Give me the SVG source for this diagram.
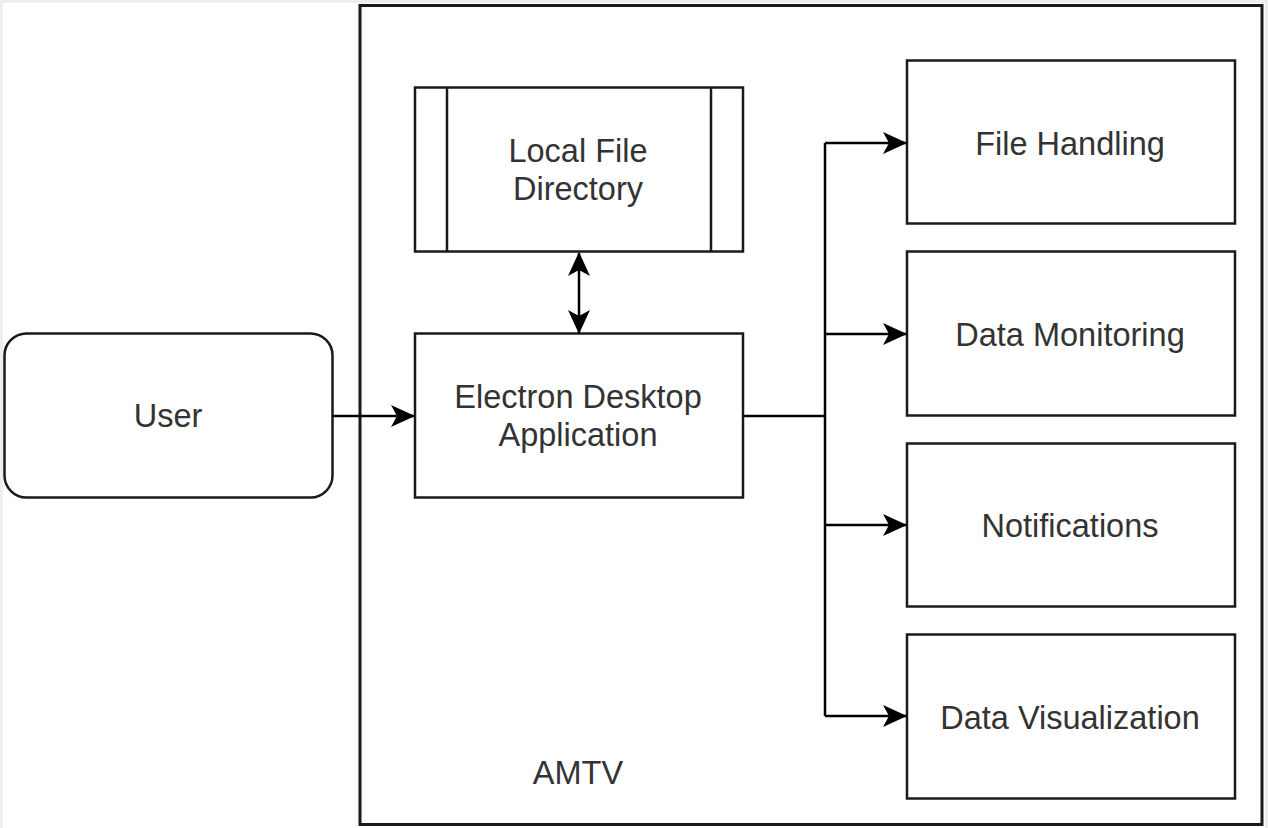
<svg xmlns="http://www.w3.org/2000/svg" width="1268" height="828" viewBox="0 0 1268 828">
  <style>
    .box { fill: #ffffff; stroke: #1a1a1a; stroke-width: 2.5; }
    .frame { fill: #ffffff; stroke: #1a1a1a; stroke-width: 3; }
    .lbl { font-family: "Liberation Sans", Arial, sans-serif; font-size: 32.5px; fill: #333333; text-anchor: middle; }
    .edge { fill: none; stroke: #000000; stroke-width: 2.5; }
  </style>
  <defs>
    <marker id="arr" viewBox="0 0 24 22" refX="23" refY="11" markerWidth="24" markerHeight="22" markerUnits="userSpaceOnUse" orient="auto-start-reverse">
      <path d="M0,0 L24,11 L0,22 L6,11 Z" fill="#000000"/>
    </marker>
  </defs>
  <rect x="0" y="0" width="1268" height="828" fill="#eeeeee"/>
  <rect x="3" y="3" width="1262" height="825" fill="#ffffff"/>

  <g id="amtv">
    <rect class="frame" x="360" y="5.5" width="902" height="819"/>
    <text class="lbl" x="578" y="784">AMTV</text>
  </g>

  <g id="user">
    <rect class="box" x="4.5" y="333.5" width="328" height="164" rx="22" ry="22"/>
    <text class="lbl" x="168" y="427">User</text>
  </g>

  <g id="local-file-directory">
    <rect class="box" x="415" y="87.5" width="328" height="164"/>
    <line class="box" x1="447" y1="87.5" x2="447" y2="251.5"/>
    <line class="box" x1="711" y1="87.5" x2="711" y2="251.5"/>
    <text class="lbl" x="578" y="162">Local File</text>
    <text class="lbl" x="578" y="200">Directory</text>
  </g>

  <g id="electron">
    <rect class="box" x="415" y="333.5" width="328" height="164"/>
    <text class="lbl" x="578" y="408">Electron Desktop</text>
    <text class="lbl" x="578" y="446">Application</text>
  </g>

  <g id="file-handling">
    <rect class="box" x="907" y="60.5" width="328" height="163"/>
    <text class="lbl" x="1070" y="155">File Handling</text>
  </g>

  <g id="data-monitoring">
    <rect class="box" x="907" y="251.5" width="328" height="164"/>
    <text class="lbl" x="1070" y="346">Data Monitoring</text>
  </g>

  <g id="notifications">
    <rect class="box" x="907" y="443.5" width="328" height="163"/>
    <text class="lbl" x="1070" y="537">Notifications</text>
  </g>

  <g id="data-visualization">
    <rect class="box" x="907" y="634.5" width="328" height="164"/>
    <text class="lbl" x="1070" y="729">Data Visualization</text>
  </g>

  <g id="connectors">
    <path class="edge" d="M332.5,416 L414,416" marker-end="url(#arr)"/>
    <path class="edge" d="M579,253 L579,333" marker-start="url(#arr)" marker-end="url(#arr)"/>
    <path class="edge" d="M743,416 L825,416"/>
    <path class="edge" d="M825,143 L825,716"/>
    <path class="edge" d="M825,143 L906,143" marker-end="url(#arr)"/>
    <path class="edge" d="M825,334 L906,334" marker-end="url(#arr)"/>
    <path class="edge" d="M825,525 L906,525" marker-end="url(#arr)"/>
    <path class="edge" d="M825,716 L906,716" marker-end="url(#arr)"/>
  </g>
</svg>
